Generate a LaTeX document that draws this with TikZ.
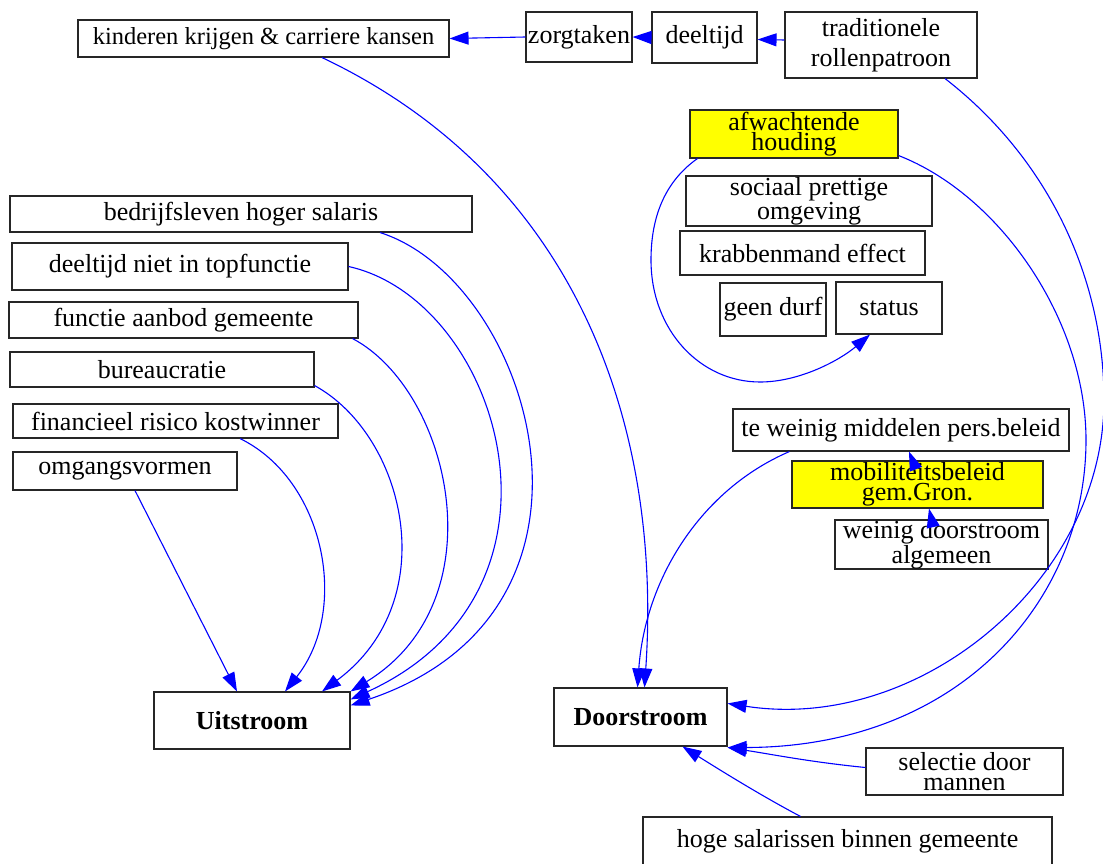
\documentclass[tikz,border=0pt]{standalone}
\usepackage{fontspec}
\setmainfont{Liberation Serif}
\usetikzlibrary{arrows.meta}
\definecolor{edgeblue}{RGB}{0,0,255}
\definecolor{hilite}{RGB}{255,255,0}
\begin{document}
\begin{tikzpicture}[x=1pt,y=-1pt,
  box/.style={draw=black!85, line width=1.1pt, inner sep=0pt, align=center,
    font=\fontsize{26}{20}\selectfont},
  hot/.style={box, fill=hilite},
  sink/.style={box, font=\fontsize{26}{20}\selectfont\bfseries},
  link/.style={draw=edgeblue, line width=1.1pt,
    -{Triangle[length=19pt,width=13pt]}, fill=none}]
\useasboundingbox (0,0) rectangle (1103,864);

% top chain
\node[box, minimum width=371pt, minimum height=37pt, font=\fontsize{24.5}{20}\selectfont] (kind) at (263.5,38.5) {kinderen krijgen \& carriere kansen};
\node[box, minimum width=106pt, minimum height=50pt] (zorg) at (579,37) {zorgtaken};
\node[box, minimum width=105pt, minimum height=51pt] (deel) at (704.5,37.5) {deeltijd};
\node[box, minimum width=192pt, minimum height=66pt, font=\fontsize{26}{30}\selectfont] (trad) at (881,45) {traditionele\\rollenpatroon};

% right cluster
\node[hot, minimum width=208pt, minimum height=48pt] (afw) at (794,134) {afwachtende\\houding};
\node[box, minimum width=246pt, minimum height=50pt] (soc) at (809,201) {sociaal prettige\\omgeving};
\node[box, minimum width=245pt, minimum height=44pt] (krab) at (802.5,253) {krabbenmand effect};
\node[box, minimum width=106pt, minimum height=53pt] (geen) at (773,309.5) {geen durf};
\node[box, minimum width=106pt, minimum height=52pt] (stat) at (889,308) {status};
\node[box, minimum width=336pt, minimum height=42pt] (tew) at (901,430) {te weinig middelen pers.beleid};
\node[hot, minimum width=251pt, minimum height=47pt] (mob) at (917.5,484.5) {mobiliteitsbeleid\\gem.Gron.};
\node[box, minimum width=213pt, minimum height=49pt] (wd) at (941.5,544.5) {weinig doorstroom\\algemeen};

% left column
\node[box, minimum width=462pt, minimum height=36pt] (bedr) at (241,214) {bedrijfsleven hoger salaris};
\node[box, minimum width=336pt, minimum height=47pt] (dnt) at (180,266.5) {deeltijd niet in topfunctie};
\node[box, minimum width=349pt, minimum height=36pt] (fag) at (183.5,320) {functie aanbod gemeente};
\node[box, minimum width=304pt, minimum height=35pt] (bur) at (162,369.5) {bureaucratie};
\node[box, minimum width=325pt, minimum height=34pt] (fin) at (175.5,421) {financieel risico kostwinner};
\node[box, minimum width=224pt, minimum height=38pt] (omg) at (125,471) {omgangsvormen};

% outcomes
\node[sink, minimum width=196pt, minimum height=57pt] (uit) at (252,720.5) {Uitstroom};
\node[sink, minimum width=173pt, minimum height=58pt] (door) at (640.5,717) {Doorstroom};
\node[box, minimum width=197pt, minimum height=47pt] (sel) at (964.5,771.5) {selectie door\\mannen};
\node[box, minimum width=409pt, minimum height=48pt] (hoge) at (847.5,841) {hoge salarissen binnen gemeente};

% top chain links
\draw[link] (zorg.west) -- (kind.east);
\draw[link] (deel.west) -- (zorg.east);
\draw[link] ([yshift=5pt]trad.west) -- ([yshift=-2pt]deel.east);

% into Doorstroom
\draw[link] ([xshift=58.5pt]kind.south) .. controls (580,180) and (662,430) .. ([xshift=4pt]door.north);
\draw[link] ([xshift=57pt]tew.south west) .. controls (700,490) and (645,580) .. ([xshift=-3pt]door.north);
\draw[link] ([yshift=3pt]afw.south east) .. controls (1000,195) and (1086,320) .. (1086,440)
  .. controls (1086,600) and (960,747) .. ([yshift=-1pt]door.south east);
\draw[link] ([xshift=64pt]trad.south) .. controls (1050,160) and (1104,280) .. (1104,400)
  .. controls (1104,580) and (920,733) .. ([yshift=-16pt]door.north east);
\draw[link] ([yshift=4pt]sel.west) .. controls (810,762) and (770,754) .. ([yshift=-1pt]door.south east);
\draw[link] ([xshift=-47pt]hoge.north) .. controls (760,795) and (720,770) .. ([xshift=42pt]door.south);

% right cluster links
\draw[link] ([xshift=-10pt]wd.north) -- ([xshift=11.5pt]mob.south);
\draw[link] ([xshift=-5pt]mob.north) -- ([xshift=8pt]tew.south);
\draw[link] ([xshift=8pt]afw.south west) .. controls (660,185) and (651,225) .. (651,260)
  .. controls (651,330) and (700,382) .. (760,382)
  .. controls (800,382) and (840,360) .. ([xshift=-19pt]stat.south);

% into Uitstroom
\draw[link] ([xshift=10pt]omg.south) -- ([xshift=-15pt]uit.north);
\draw[link] ([xshift=64.5pt]fin.south) .. controls (325,480) and (350,610) .. ([xshift=33pt]uit.north);
\draw[link] ([yshift=2pt]bur.south east) .. controls (405,435) and (445,600) .. ([xshift=70pt]uit.north);
\draw[link] ([xshift=-6pt]fag.south east) .. controls (450,390) and (500,600) .. (uit.north east);
\draw[link] (dnt.east) .. controls (500,300) and (590,590) .. ([yshift=-8pt]uit.north east);
\draw[link] ([xshift=139pt]bedr.south) .. controls (530,280) and (635,610) .. ([yshift=-14pt]uit.north east);
\end{tikzpicture}
\end{document}
